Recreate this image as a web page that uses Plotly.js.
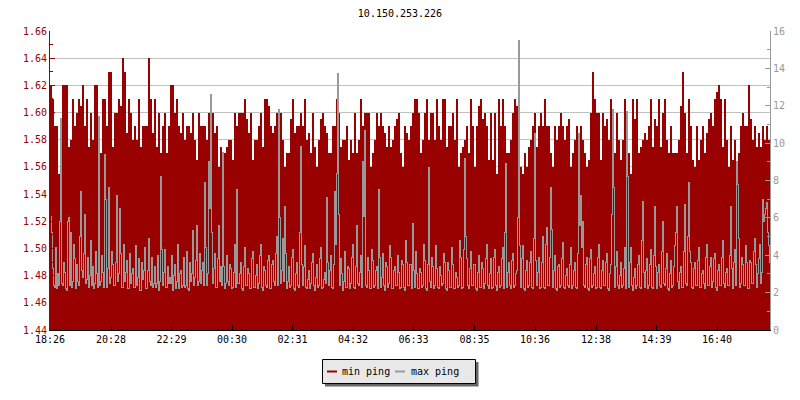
<!DOCTYPE html>
<html>
<head>
<meta charset="utf-8">
<script src="https://cdn.plot.ly/plotly-3.0.1.min.js"></script>
<style>
html,body{margin:0;padding:0;background:#fff;}
#chart{width:800px;height:400px;}
.scatterlayer path{shape-rendering:crispEdges;}
</style>
</head>
<body>
<div id="chart"></div>
<script>
// ---- data ----
const chartTitle = "10.150.253.226";
const startLabel = "18:26";
const minStepMinutes = 4;   // min ping sample interval
const maxStepMinutes = 2;   // max ping sample interval
const spanMinutes = 1440;
const tickLabels = ["18:26","20:28","22:29","00:30","02:31","04:32","06:33","08:35","10:36","12:38","14:39","16:40"];
const seriesNames = ["min ping", "max ping"];

const minPing = [
1.62,1.61,1.59,1.59,1.555,1.575,1.62,1.62,1.62,1.575,1.58,1.61,1.59,1.60,1.61,1.605,1.62,1.59,1.61,1.575,
1.60,1.58,1.62,1.62,1.595,1.57,1.61,1.61,1.59,1.63,1.63,1.575,1.60,1.60,1.61,1.605,1.64,1.63,1.585,1.61,
1.60,1.58,1.59,1.58,1.61,1.575,1.59,1.59,1.59,1.64,1.61,1.585,1.61,1.575,1.60,1.57,1.59,1.60,1.57,1.59,
1.62,1.62,1.60,1.61,1.59,1.585,1.60,1.58,1.59,1.59,1.585,1.60,1.58,1.565,1.60,1.59,1.59,1.59,1.58,1.60,
1.59,1.60,1.585,1.59,1.56,1.575,1.56,1.57,1.575,1.58,1.58,1.565,1.60,1.59,1.60,1.60,1.60,1.61,1.595,1.585,
1.60,1.565,1.58,1.58,1.59,1.60,1.575,1.61,1.61,1.605,1.59,1.585,1.59,1.60,1.595,1.60,1.58,1.56,1.57,1.57,
1.595,1.61,1.585,1.59,1.59,1.60,1.59,1.61,1.58,1.585,1.57,1.60,1.575,1.56,1.58,1.595,1.60,1.59,1.585,1.57,
1.57,1.59,1.59,1.61,1.60,1.575,1.58,1.58,1.59,1.565,1.58,1.57,1.60,1.57,1.58,1.61,1.59,1.60,1.60,1.60,
1.56,1.57,1.58,1.60,1.59,1.60,1.59,1.585,1.575,1.59,1.575,1.58,1.59,1.595,1.60,1.57,1.56,1.59,1.585,1.58,
1.59,1.60,1.61,1.61,1.60,1.57,1.58,1.60,1.61,1.58,1.60,1.60,1.58,1.61,1.59,1.58,1.61,1.61,1.575,1.59,
1.59,1.60,1.58,1.61,1.56,1.57,1.575,1.58,1.59,1.57,1.61,1.59,1.56,1.59,1.605,1.61,1.595,1.60,1.59,1.565,
1.60,1.565,1.60,1.555,1.61,1.59,1.61,1.59,1.57,1.57,1.58,1.60,1.61,1.605,1.57,1.56,1.555,1.57,1.56,1.575,
1.58,1.59,1.60,1.575,1.59,1.60,1.59,1.61,1.59,1.59,1.57,1.56,1.59,1.58,1.59,1.60,1.59,1.58,1.59,1.595,
1.56,1.57,1.58,1.59,1.58,1.59,1.58,1.57,1.56,1.565,1.60,1.63,1.61,1.60,1.60,1.565,1.60,1.59,1.595,1.58,
1.61,1.58,1.57,1.60,1.58,1.565,1.58,1.61,1.595,1.57,1.555,1.61,1.595,1.61,1.57,1.575,1.58,1.585,1.58,1.59,
1.61,1.575,1.595,1.59,1.61,1.575,1.60,1.61,1.58,1.57,1.59,1.57,1.57,1.57,1.58,1.605,1.63,1.60,1.57,1.61,
1.59,1.565,1.56,1.59,1.565,1.58,1.59,1.57,1.585,1.595,1.60,1.59,1.61,1.615,1.62,1.61,1.575,1.61,1.58,1.56,
1.59,1.565,1.58,1.56,1.57,1.59,1.60,1.59,1.59,1.62,1.595,1.58,1.59,1.575,1.585,1.575,1.59,1.58,1.59,1.58
];

const maxPing = [
6.1,5.2,3.3,2.4,2.3,4.4,2.2,3.0,2.4,5.8,11.3,2.5,2.4,3.6,3.1,2.2,2.1,5.8,6.0,2.4,5.2,2.3,2.6,4.6,
3.8,2.2,3.5,2.6,2.4,5.0,7.4,3.2,2.8,4.1,6.2,2.5,2.7,3.9,2.3,2.9,4.8,2.4,3.4,2.2,2.5,4.2,3.0,2.3,
11.4,2.4,2.6,4.0,3.1,2.3,9.4,7.0,2.3,3.3,7.6,2.5,2.8,4.2,3.5,2.4,2.4,3.6,7.2,2.6,3.0,6.5,4.1,2.3,
2.3,4.6,2.6,3.1,3.7,2.2,2.2,4.1,2.5,3.0,3.3,2.3,2.3,4.5,2.4,2.8,3.8,2.1,2.1,3.6,2.7,3.2,4.4,2.2,
2.2,3.2,4.9,2.6,2.4,3.9,2.3,2.5,3.4,2.3,2.5,4.0,2.1,2.6,8.2,4.3,2.4,3.1,4.3,2.3,2.3,3.4,2.5,2.8,
2.5,4.0,2.1,2.9,3.5,2.2,2.6,4.6,2.2,3.0,3.2,2.3,2.4,3.9,2.3,2.4,4.2,2.2,2.1,3.6,2.6,3.0,5.3,2.4,
2.8,3.7,5.6,2.4,2.6,4.1,2.5,3.2,3.6,2.4,7.9,4.4,2.4,3.0,9.0,6.5,12.6,5.2,2.5,3.3,4.1,2.3,2.3,3.8,
5.6,2.6,3.4,2.4,9.5,3.4,2.2,2.5,4.0,2.6,2.4,3.5,3.3,2.2,2.3,3.1,4.6,2.3,7.5,2.5,2.5,3.0,3.6,2.2,
2.1,3.4,4.4,2.4,2.4,3.3,3.0,2.2,2.2,3.8,4.2,2.3,2.3,2.9,3.5,2.2,2.5,4.0,4.6,2.3,2.1,3.4,3.2,2.4,
2.3,3.7,4.0,2.2,2.2,3.5,3.7,2.6,2.4,4.1,5.0,2.4,11.8,6.0,2.5,3.2,4.9,2.6,6.6,4.1,2.2,2.6,3.4,2.3,
2.4,3.9,4.3,2.2,2.1,3.0,3.6,2.4,2.3,5.2,9.8,3.5,2.4,3.4,4.5,2.3,2.2,2.7,3.2,2.2,2.5,3.6,4.1,2.4,
2.1,2.8,3.5,2.3,2.4,3.8,4.4,2.2,2.3,2.7,3.1,2.5,7.1,3.6,2.4,3.2,4.0,2.3,2.2,3.5,7.4,4.6,8.4,13.7,
6.2,2.4,3.8,3.0,2.1,2.6,4.2,2.3,2.3,3.4,3.3,2.2,2.5,3.9,4.6,2.3,2.2,3.4,5.6,2.5,2.4,3.1,4.0,2.3,
9.0,6.1,10.7,2.4,2.3,3.9,3.2,2.2,2.2,4.3,3.7,2.3,2.4,3.2,3.4,2.2,7.5,3.9,2.3,2.8,4.1,2.4,2.1,3.6,
3.4,2.3,2.5,4.5,3.9,2.2,2.2,3.2,3.4,2.4,2.4,4.0,3.1,2.2,2.3,3.7,3.5,2.3,2.1,4.8,3.6,2.4,2.4,3.5,
3.5,2.2,5.7,3.2,2.3,4.2,3.0,2.2,2.2,3.3,3.1,2.3,2.4,4.6,3.7,2.2,2.1,3.5,8.7,2.6,2.3,3.9,3.4,2.2,
2.4,4.5,3.3,2.3,2.2,3.4,2.9,2.4,2.5,4.1,3.6,2.2,2.1,3.6,3.2,2.3,2.3,4.4,3.5,2.2,2.2,3.1,2.8,2.3,
2.4,4.8,3.9,2.2,2.3,4.3,9.2,5.0,3.8,2.4,2.2,3.3,4.2,2.4,2.4,3.5,3.5,2.2,2.1,3.1,4.0,2.3,2.3,3.6,
3.3,2.2,2.5,3.8,4.6,2.4,2.2,3.0,3.8,2.2,2.3,3.9,4.3,2.4,2.1,3.1,3.4,2.3,2.4,3.8,4.4,2.2,5.2,8.9,
2.3,3.1,3.6,2.4,2.2,3.7,4.1,2.3,2.4,3.0,3.2,6.0,15.5,4.5,2.3,3.8,4.5,2.2,2.1,3.2,3.7,2.3,2.4,3.6,
4.2,2.3,2.2,4.9,10.5,3.7,2.4,3.1,3.9,2.2,2.3,3.6,5.0,2.3,2.2,4.6,5.5,2.4,2.4,3.9,7.6,5.4,2.3,3.2,
4.0,2.2,2.1,3.4,3.5,2.3,2.4,3.8,4.7,2.3,2.2,2.9,3.3,2.4,2.3,3.5,4.4,2.2,2.4,3.2,3.6,2.3,2.2,4.1,
10.5,5.6,7.2,4.4,5.8,2.4,2.3,3.5,3.9,2.2,2.1,3.8,4.3,2.3,2.4,3.0,3.4,2.2,2.3,3.9,4.6,2.3,2.2,3.2,
3.7,2.4,2.4,3.6,4.1,2.2,2.1,3.0,3.5,6.2,11.8,7.6,2.3,3.4,4.2,2.4,2.2,2.9,3.6,2.3,2.4,3.3,4.4,2.2,
11.7,8.2,2.3,3.6,4.4,2.4,2.1,2.8,3.3,2.2,2.4,3.5,4.0,2.3,2.2,4.8,6.9,3.1,2.3,3.2,3.8,2.2,2.4,3.5,
4.3,2.3,2.2,4.0,6.6,3.4,2.2,3.1,3.5,2.4,2.3,4.2,5.8,2.5,2.4,3.3,4.1,2.2,2.1,3.0,3.7,2.3,2.4,3.4,
4.5,5.2,6.6,2.6,2.2,3.1,3.4,2.3,2.3,4.2,6.7,2.5,2.4,5.0,7.9,4.2,3.6,2.3,2.2,3.3,3.6,2.4,2.4,3.7,
4.4,2.3,2.3,3.0,3.2,2.5,2.2,3.9,4.6,2.4,2.4,3.4,3.9,2.3,2.6,3.8,4.1,2.3,2.1,3.2,3.5,2.4,2.4,3.9,
4.8,2.5,2.3,3.1,3.3,2.4,2.4,4.0,6.6,3.3,2.2,3.6,4.3,2.4,9.0,7.8,4.9,2.3,2.5,3.9,3.5,2.4,2.4,4.5,
3.6,2.2,2.2,3.7,3.6,2.5,2.5,4.2,4.9,3.5,2.3,3.0,3.8,4.6,2.5,3.1,7.0,5.8,6.2,6.5,6.8,5.2,4.5,3.6
];

// ---- build ----
const RED = "#990000", GRAY = "#999999";
const FONT = "DejaVu Sans Mono, monospace";

function toMin(s){ const p = s.split(":"); return (+p[0])*60 + (+p[1]); }
const startMin = toMin(startLabel);
const tickVals = tickLabels.map(function(s){ let d = toMin(s) - startMin; if (d < 0) d += 1440; return d; });

const redX = minPing.map(function(_, i){ return i*minStepMinutes; }).concat([spanMinutes]);
const redY = minPing.concat([minPing[minPing.length-1]]);
// gray step line: each sample centred in its one-pixel column
const grayX = maxPing.map(function(_, i){ return i*maxStepMinutes + maxStepMinutes/2; });

const L = 50, R = 770, T = 31, B = 330;
function px2x(px){ return (px - L)/(R - L); }
function py2y(py){ return (B - py)/(B - T); }

const traces = [
  {type:"scatter", mode:"lines", x:redX, y:redY, name:seriesNames[0],
   line:{shape:"hv", width:0, color:RED, simplify:false}, fill:"tozeroy", fillcolor:RED, hoverinfo:"skip"},
  {type:"scatter", mode:"lines", x:grayX, y:maxPing, name:seriesNames[1], yaxis:"y2",
   line:{shape:"hv", width:1, color:GRAY, simplify:false}, hoverinfo:"skip"}
];

const layout = {
  width:800, height:400,
  margin:{l:L, r:800-R, t:T, b:400-B, pad:0},
  paper_bgcolor:"#ffffff", plot_bgcolor:"#ffffff",
  showlegend:false,
  font:{family:FONT, size:10, color:"#000"},
  title:{text:chartTitle, font:{family:FONT, size:10, color:"#000"}, x:0.5, xanchor:"center", y:1-13/400, yanchor:"middle", yref:"container"},
  xaxis:{range:[0, spanMinutes], tickvals:tickVals, ticktext:tickLabels, showgrid:false, zeroline:false,
    showline:true, linecolor:"#000", linewidth:1, ticks:"inside", ticklen:5, tickcolor:"#000", tickwidth:1,
    tickfont:{family:FONT, size:10, color:"#000"}, fixedrange:true},
  yaxis:{range:[1.44, 1.66], dtick:0.02, tick0:1.44, tickformat:".2f", showgrid:true, gridcolor:"#c0c0c0", gridwidth:1,
    zeroline:false, showline:true, linecolor:RED, linewidth:1, ticks:"inside", ticklen:5, tickcolor:RED, tickwidth:1,
    tickfont:{family:FONT, size:10, color:RED},
    minor:{dtick:0.01, tick0:1.44, ticks:"inside", ticklen:3, tickcolor:RED, showgrid:false}},
  yaxis2:{range:[0,16], dtick:2, tick0:0, overlaying:"y", side:"right", showgrid:false, zeroline:false,
    showline:true, linecolor:GRAY, linewidth:1, ticks:"inside", ticklen:5, tickcolor:GRAY, tickwidth:1,
    tickfont:{family:FONT, size:10, color:GRAY},
    minor:{dtick:1, tick0:0, ticks:"inside", ticklen:3, tickcolor:GRAY, showgrid:false}},
  shapes:[
    {type:"rect", xref:"paper", yref:"paper", x0:px2x(325), x1:px2x(478.5), y0:py2y(362), y1:py2y(386.5), fillcolor:"#666666", line:{width:0}, layer:"above"},
    {type:"rect", xref:"paper", yref:"paper", x0:px2x(322.5), x1:px2x(475.5), y0:py2y(359.5), y1:py2y(383.5), fillcolor:"#e8e8e8", line:{width:1, color:"#000"}, layer:"above"},
    {type:"line", xref:"paper", yref:"paper", x0:px2x(327), x1:px2x(337), y0:py2y(371.5), y1:py2y(371.5), line:{width:2, color:RED}, layer:"above"},
    {type:"line", xref:"paper", yref:"paper", x0:px2x(395), x1:px2x(405), y0:py2y(371.5), y1:py2y(371.5), line:{width:2, color:GRAY}, layer:"above"}
  ],
  annotations:[
    {xref:"paper", yref:"paper", x:px2x(340), y:py2y(371), xanchor:"left", yanchor:"middle", showarrow:false, text:seriesNames[0], font:{family:FONT, size:10, color:"#000"}},
    {xref:"paper", yref:"paper", x:px2x(408.5), y:py2y(371), xanchor:"left", yanchor:"middle", showarrow:false, text:seriesNames[1], font:{family:FONT, size:10, color:"#000"}}
  ]
};

Plotly.newPlot("chart", traces, layout, {staticPlot:true, displayModeBar:false});
</script>
</body>
</html>
